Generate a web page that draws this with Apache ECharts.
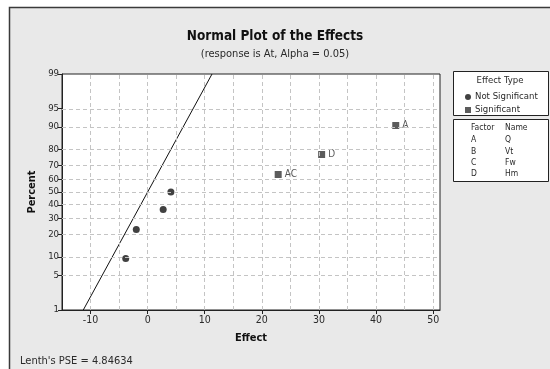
<!DOCTYPE html>
<html><head><meta charset="utf-8">
<script src="https://cdn.jsdelivr.net/npm/echarts@6/dist/echarts.min.js"></script>
<style>html,body{margin:0;padding:0;background:#fff}#c{width:550px;height:369px}</style>
</head><body><div id="c"></div>
<script>
// ---- data ----
const nsEffects = [-3.84, -1.99, 2.72, 4.07];
const nsPercents = [9.5, 23.0, 36.5, 50.0];
const sigEffects = [22.86, 30.47, 43.45];
const sigPercents = [63.5, 77.0, 90.5];
const sigLabels = ['AC', 'D', 'A'];
const percentTicks = [1, 5, 10, 20, 30, 40, 50, 60, 70, 80, 90, 95, 99];
const effectTicks = [-10, 0, 10, 20, 30, 40, 50];
const effectGrid = [-10, -5, 0, 5, 10, 15, 20, 25, 30, 35, 40, 45, 50];
const factors = ['A', 'B', 'C', 'D'];
const factorNames = ['Q', 'Vt', 'Fw', 'Hm'];
const lenthPSE = 4.84634;

// inverse standard normal (Acklam)
function probit(p) {
  const a = [-3.969683028665376e+01, 2.209460984245205e+02, -2.759285104469687e+02, 1.383577518672690e+02, -3.066479806614716e+01, 2.506628277459239e+00];
  const b = [-5.447609879822406e+01, 1.615858368580409e+02, -1.556989798598866e+02, 6.680131188771972e+01, -1.328068155288572e+01];
  const c = [-7.784894002430293e-03, -3.223964580411365e-01, -2.400758277161838e+00, -2.549732539343734e+00, 4.374664141464968e+00, 2.938163982698783e+00];
  const d = [7.784695709041462e-03, 3.224671290700398e-01, 2.445134137142996e+00, 3.754408661907416e+00];
  const pl = 0.02425, ph = 1 - pl;
  let q, r;
  if (p < pl) { q = Math.sqrt(-2 * Math.log(p)); return (((((c[0]*q+c[1])*q+c[2])*q+c[3])*q+c[4])*q+c[5]) / ((((d[0]*q+d[1])*q+d[2])*q+d[3])*q+1); }
  if (p <= ph) { q = p - 0.5; r = q*q; return (((((a[0]*r+a[1])*r+a[2])*r+a[3])*r+a[4])*r+a[5])*q / (((((b[0]*r+b[1])*r+b[2])*r+b[3])*r+b[4])*r+1); }
  q = Math.sqrt(-2 * Math.log(1 - p)); return -(((((c[0]*q+c[1])*q+c[2])*q+c[3])*q+c[4])*q+c[5]) / ((((d[0]*q+d[1])*q+d[2])*q+d[3])*q+1);
}
const zOf = p => probit(p / 100);
const yMin = zOf(percentTicks[0]);
const yMax = zOf(percentTicks[percentTicks.length - 1]);
const tickZ = percentTicks.map(zOf);

const FONT = '"DejaVu Sans Condensed", "DejaVu Sans", sans-serif';
const TXT = '#2a2a2a';

const chart = echarts.init(document.getElementById('c'), null, {renderer: 'canvas'});
const option = {
  animation: false,
  backgroundColor: 'transparent',
  textStyle: {fontFamily: FONT},
  title: {
    text: 'Normal Plot of the Effects',
    subtext: '(response is At, Alpha = 0.05)',
    left: 270, top: 24, textAlign: 'center', itemGap: 6,
    textStyle: {fontFamily: FONT, fontSize: 13.5, fontWeight: 'bold', color: '#111'},
    subtextStyle: {fontFamily: FONT, fontSize: 11, color: TXT}
  },
  grid: {left: 62, top: 74, width: 378, height: 236, show: true, backgroundColor: '#fff', borderColor: '#222', borderWidth: 1},
  xAxis: {
    type: 'value', min: -15, max: 51.2,
    name: 'Effect', nameLocation: 'middle', nameGap: 23,
    nameTextStyle: {fontFamily: FONT, fontSize: 11, fontWeight: 'bold', color: '#111'},
    axisLine: {onZero: false, lineStyle: {color: '#222', width: 1}},
    axisTick: {show: true, length: 4, customValues: effectTicks, lineStyle: {color: '#222'}},
    axisLabel: {customValues: effectTicks, fontSize: 10.5, color: TXT, margin: 5, fontFamily: FONT},
    splitLine: {show: false}
  },
  yAxis: {
    type: 'value', min: yMin, max: yMax,
    name: 'Percent', nameLocation: 'middle', nameGap: 24, nameRotate: 90,
    nameTextStyle: {fontFamily: FONT, fontSize: 11, fontWeight: 'bold', color: '#111'},
    axisLine: {show: true, onZero: false, lineStyle: {color: '#222', width: 1}},
    axisTick: {show: true, length: 4, customValues: tickZ, lineStyle: {color: '#222'}},
    axisLabel: {
      customValues: tickZ, fontSize: 9.5, color: TXT, margin: 3, fontFamily: FONT,
      formatter: v => { const i = tickZ.findIndex(t => Math.abs(t - v) < 1e-6); return i >= 0 ? String(percentTicks[i]) : ''; }
    },
    splitLine: {show: false}
  },
  legend: {
    orient: 'vertical', left: 460, top: 87, itemGap: 3,
    itemWidth: 6, itemHeight: 6,
    textStyle: {fontFamily: FONT, fontSize: 9.5, color: TXT, padding: [0, 0, 0, -1]},
    data: [{name: 'Not Significant', icon: 'circle'}, {name: 'Significant', icon: 'rect'}]
  },
  graphic: [
    {type: 'rect', z: -100, shape: {x: 9.5, y: 7.5, width: 620, height: 420}, style: {fill: '#e9e9e9', stroke: '#3a3a3a', lineWidth: 1.5}},
    {type: 'rect', z: -50, shape: {x: 453.5, y: 71.5, width: 95, height: 44}, style: {fill: '#fff', stroke: '#222', lineWidth: 1}},
    {type: 'rect', z: -50, shape: {x: 453.5, y: 119.5, width: 95, height: 62}, style: {fill: '#fff', stroke: '#222', lineWidth: 1}},
    {type: 'text', x: 500, y: 81, style: {text: 'Effect Type', font: '9.5px ' + FONT, fill: TXT, textAlign: 'center', textVerticalAlign: 'middle'}},
    {type: 'text', x: 471, y: 128, style: {text: 'Factor', font: '8.5px ' + FONT, fill: TXT, textVerticalAlign: 'middle'}},
    {type: 'text', x: 505, y: 128, style: {text: 'Name', font: '8.5px ' + FONT, fill: TXT, textVerticalAlign: 'middle'}},
    ...factors.map((f, i) => ({type: 'text', x: 471, y: 140 + i * 11.4, style: {text: f, font: '8.5px ' + FONT, fill: TXT, textVerticalAlign: 'middle'}})),
    ...factorNames.map((f, i) => ({type: 'text', x: 505, y: 140 + i * 11.4, style: {text: f, font: '8.5px ' + FONT, fill: TXT, textVerticalAlign: 'middle'}})),
    {type: 'text', x: 20, y: 361, style: {text: "Lenth's PSE = " + lenthPSE, font: '11px ' + FONT, fill: TXT, textVerticalAlign: 'middle'}}
  ],
  series: [
    {
      name: 'grid', type: 'line', data: [], silent: true, z: 1,
      markLine: {
        silent: true, symbol: ['none', 'none'], label: {show: false},
        lineStyle: {color: '#c4c4c4', type: [4, 3], width: 1},
        data: [
          ...effectGrid.map(x => ({xAxis: x})),
          ...percentTicks.slice(1, -1).map(p => ({yAxis: zOf(p)}))
        ]
      }
    },
    {
      name: 'fit', type: 'line', z: 3, symbol: 'none', silent: true,
      lineStyle: {color: '#111', width: 1},
      data: [[lenthPSE * yMin, yMin], [lenthPSE * yMax, yMax]]
    },
    {
      name: 'Not Significant', type: 'scatter', z: 4, symbol: 'circle', symbolSize: 7,
      itemStyle: {color: '#111'},
      data: nsEffects.map((x, i) => [x, zOf(nsPercents[i])])
    },
    {
      name: 'Significant', type: 'scatter', z: 4, symbol: 'rect', symbolSize: 7,
      itemStyle: {color: '#333'},
      label: {show: true, position: 'right', distance: 3, formatter: p => p.name, fontFamily: FONT, fontSize: 10, color: TXT},
      data: sigEffects.map((x, i) => ({name: sigLabels[i], value: [x, zOf(sigPercents[i])]}))
    }
  ]
};
chart.setOption(option);
</script>
</body></html>
